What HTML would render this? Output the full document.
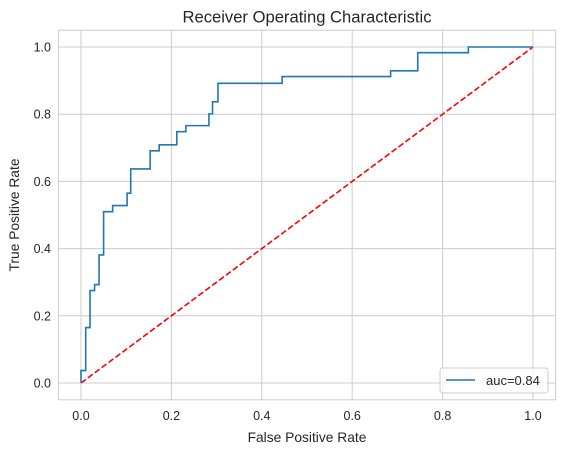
<!DOCTYPE html>
<html><head><meta charset="utf-8"><style>
body{margin:0;background:#fff;}
svg text{font-family:"Liberation Sans",Arial,sans-serif;fill:#262626;}
</style></head><body>
<svg id="chart" width="564" height="453" viewBox="0 0 564 453" xmlns="http://www.w3.org/2000/svg">
<rect width="564" height="453" fill="#fff"/>
<g id="grid"></g>
<rect x="58.4" y="30.2" width="497.2" height="369.6" fill="none" stroke="#cccccc" stroke-width="1"/>
<g id="marks"></g>
<text x="307" y="22.5" text-anchor="middle" font-size="16.6">Receiver Operating Characteristic</text>
<text x="307" y="442" text-anchor="middle" font-size="13.8">False Positive Rate</text>
<text transform="translate(19,215) rotate(-90)" text-anchor="middle" font-size="13.8">True Positive Rate</text>
<g>
<rect x="440" y="368" width="108" height="25" rx="3" fill="#fff" fill-opacity="0.8" stroke="#cccccc"/>
<line x1="446" y1="380" x2="475" y2="380" stroke="#1f77b4" stroke-width="1.6"/>
<text x="486" y="385" font-size="13">auc=0.84</text>
</g>
</svg>
<script>
const fpr = [0,0,0.0104,0.0104,0.020,0.020,0.030,0.030,0.040,0.040,0.050,0.050,0.070,0.070,0.102,0.102,0.110,0.110,0.153,0.153,0.173,0.173,0.212,0.212,0.232,0.232,0.283,0.283,0.291,0.291,0.303,0.303,0.445,0.445,0.685,0.685,0.745,0.745,0.857,0.857,1.0];
const tpr = [0,0.037,0.037,0.165,0.165,0.275,0.275,0.293,0.293,0.381,0.381,0.510,0.510,0.528,0.528,0.565,0.565,0.637,0.637,0.691,0.691,0.709,0.709,0.748,0.748,0.766,0.766,0.801,0.801,0.837,0.837,0.892,0.892,0.912,0.912,0.929,0.929,0.983,0.983,1.0,1.0];
const xTicks = [0,0.2,0.4,0.6,0.8,1.0];
const yTicks = [0,0.2,0.4,0.6,0.8,1.0];
const xTickLabels = ["0.0","0.2","0.4","0.6","0.8","1.0"];
const yTickLabels = ["0.0","0.2","0.4","0.6","0.8","1.0"];
const diag = [0,1];

const NS="http://www.w3.org/2000/svg";
const X = v => 81 + v*452;
const Y = v => 383 - v*336;
const grid=document.getElementById('grid'), marks=document.getElementById('marks'), svg=document.getElementById('chart');
xTicks.forEach((t,i)=>{
  const l=document.createElementNS(NS,'line');
  l.setAttribute('x1',X(t));l.setAttribute('x2',X(t));l.setAttribute('y1',30.2);l.setAttribute('y2',399.8);
  l.setAttribute('stroke','#cccccc');
  
  
  grid.appendChild(l);
  const tx=document.createElementNS(NS,'text');
  tx.setAttribute('x',X(t));tx.setAttribute('y',420);tx.setAttribute('text-anchor','middle');tx.setAttribute('font-size','12.5');
  tx.textContent=xTickLabels[i];
  
  
  svg.appendChild(tx);
});
yTicks.forEach((t,i)=>{
  const l=document.createElementNS(NS,'line');
  l.setAttribute('y1',Y(t));l.setAttribute('y2',Y(t));l.setAttribute('x1',58.4);l.setAttribute('x2',555.6);
  l.setAttribute('stroke','#cccccc');
  
  
  grid.appendChild(l);
  const tx=document.createElementNS(NS,'text');
  tx.setAttribute('x',51);tx.setAttribute('y',Y(t)+4.5);tx.setAttribute('text-anchor','end');tx.setAttribute('font-size','12.5');
  tx.textContent=yTickLabels[i];
  
  
  svg.appendChild(tx);
});
const d=document.createElementNS(NS,'line');
d.setAttribute('x1',X(diag[0]));d.setAttribute('y1',Y(diag[0]));d.setAttribute('x2',X(diag[1]));d.setAttribute('y2',Y(diag[1]));
d.setAttribute('stroke','#ff0000');d.setAttribute('stroke-width','1.6');d.setAttribute('stroke-dasharray','6,2.6');


marks.appendChild(d);
const p=document.createElementNS(NS,'polyline');
p.setAttribute('points',fpr.map((v,i)=>X(v)+','+Y(tpr[i])).join(' '));
p.setAttribute('fill','none');p.setAttribute('stroke','#1f77b4');p.setAttribute('stroke-width','1.6');


marks.appendChild(p);
</script>
</body></html>
